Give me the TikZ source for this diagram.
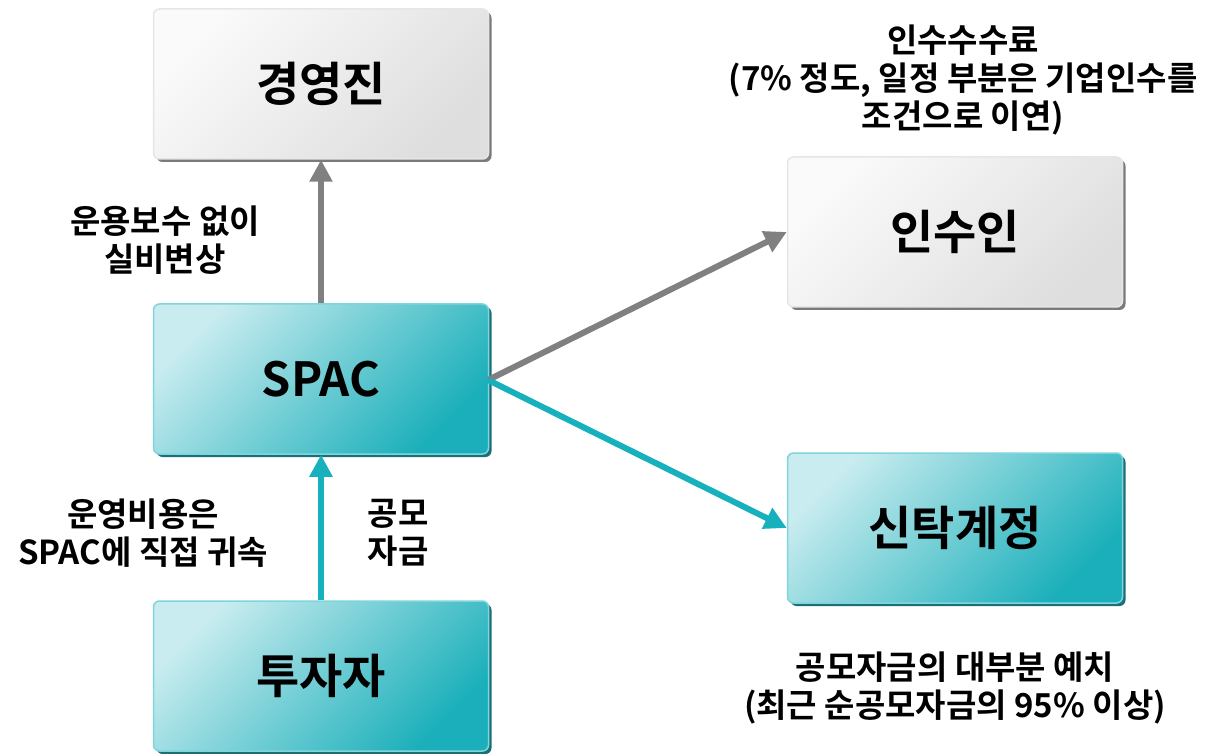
\documentclass[tikz,border=0pt]{standalone}
\usepackage{fontspec}
\setmainfont{Noto Sans CJK KR}[BoldFont={* Bold}]
\usetikzlibrary{arrows.meta,shadows}
\definecolor{tealL}{HTML}{C8ECEF}
\definecolor{tealD}{HTML}{1AAFBA}
\definecolor{tealB}{HTML}{80D4DB}
\definecolor{tealS}{HTML}{1B6F76}
\definecolor{grayL}{HTML}{FAFAFA}
\definecolor{grayD}{HTML}{DEDEDE}
\definecolor{grayB}{HTML}{E6E6E6}
\definecolor{grayS}{HTML}{7A7A7A}
\definecolor{arrG}{HTML}{808080}
\definecolor{arrT}{HTML}{17B1BE}
\begin{document}
\begin{tikzpicture}[x=1pt,y=-1pt,
  box/.style={rounded corners=6pt, minimum width=335pt, minimum height=150pt,
    line width=1.5pt, inner sep=0pt,
    font=\fontsize{47}{52}\selectfont\bfseries},
  tealbox/.style={box, draw=tealB, shading=axis, top color=tealL, bottom color=tealD, shading angle=45,
    drop shadow={shadow xshift=3pt, shadow yshift=-3pt, fill=tealS, opacity=1}},
  graybox/.style={box, draw=grayB, shading=axis, top color=grayL, bottom color=grayD, shading angle=45,
    drop shadow={shadow xshift=3pt, shadow yshift=-3pt, fill=grayS, opacity=1}},
  lbl/.style={align=center, font=\fontsize{33}{38}\selectfont\bfseries, inner sep=0pt},
  garrow/.style={draw=arrG, line width=6pt, -{Triangle[length=22pt,width=22pt]}},
  tarrow/.style={draw=arrT, line width=6pt, -{Triangle[length=22pt,width=22pt]}}
]
\useasboundingbox (0,0) rectangle (1211,754);
\node[graybox] (mgmt) at (321,84) {경영진};
\node[tealbox] (spac) at (321,379) {SPAC};
\node[tealbox] (inv) at (321,676) {투자자};
\node[graybox] (und) at (955,232) {인수인};
\node[tealbox] (trust) at (955,528) {신탁계정};

\coordinate (sr) at (488,380);
\draw[garrow] (spac.north) -- (mgmt.south);
\draw[tarrow] (inv.north) -- (spac.south);
\draw[garrow] (sr) -- (und.west);
\draw[tarrow] (sr) -- (trust.west);

\node[lbl] (l1) at (165,240) {운용보수 없이\\실비변상};
\node[lbl] (l2) at (143,533) {운영비용은\\SPAC에 직접 귀속};
\node[lbl] (l3) at (398,533) {공모\\자금};
\node[lbl] (l4) at (963,80) {인수수수료\\(7\% 정도, 일정 부분은 기업인수를\\조건으로 이연)};
\node[lbl] (l5) at (955,688) {공모자금의 대부분 예치\\(최근 순공모자금의 95\% 이상)};
\end{tikzpicture}
\end{document}
